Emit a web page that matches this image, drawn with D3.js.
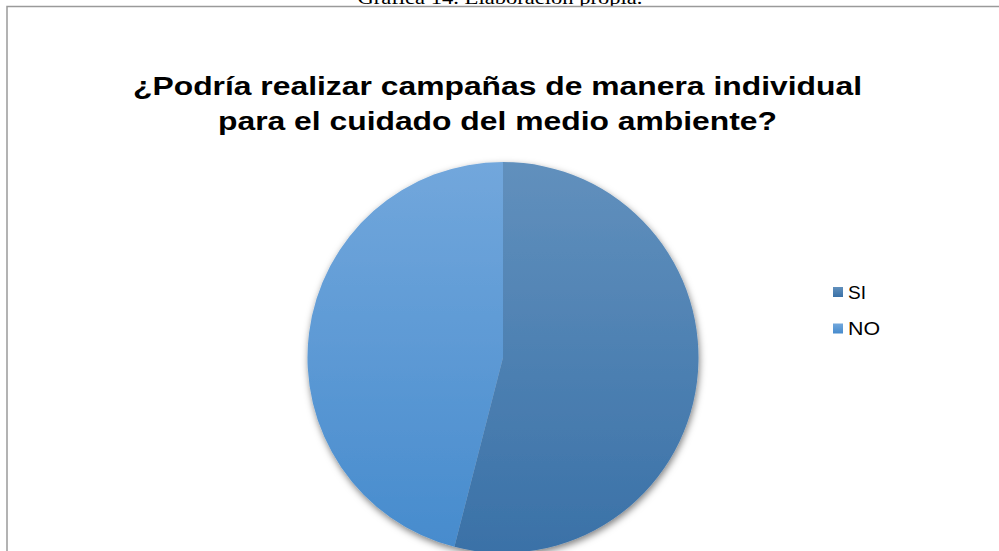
<!DOCTYPE html>
<html>
<head>
<meta charset="utf-8">
<script src="https://cdn.jsdelivr.net/npm/d3@7"></script>
<style>
  html, body { margin: 0; padding: 0; background: #fff; overflow: hidden; }
</style>
</head>
<body>
<script>
// DATA
const categories = ["SI", "NO"];
const values = [54, 46];
const titleLines = ["¿Podría realizar campañas de manera individual", "para el cuidado del medio ambiente?"];
const caption = "Gráfica 14. Elaboración propia.";

const pieData = categories.map((c, i) => ({category: c, value: values[i]}));

var svg = d3.select("body")
    .append("svg")
    .attr("width", 999)
    .attr("height", 551);

const defs = svg.append("defs");

// gradients for the slices
const grads = {
  SI: ["#6190bd", "#3a71a7"],
  NO: ["#72a7dc", "#468bcd"]
};
Object.keys(grads).forEach(k => {
  const g = defs.append("linearGradient")
      .attr("id", "grad" + k)
      .attr("gradientUnits", "userSpaceOnUse")
      .attr("x1", 0).attr("y1", -196)
      .attr("x2", 0).attr("y2", 196);
  g.append("stop").attr("offset", "0%").attr("stop-color", grads[k][0]);
  g.append("stop").attr("offset", "100%").attr("stop-color", grads[k][1]);

  const l = defs.append("linearGradient")
      .attr("id", "legend" + k)
      .attr("x1", 0).attr("y1", 0).attr("x2", 0).attr("y2", 1);
  l.append("stop").attr("offset", "0%").attr("stop-color", grads[k][0]);
  l.append("stop").attr("offset", "100%").attr("stop-color", grads[k][1]);
});

const shadow = defs.append("filter")
    .attr("id", "shadow")
    .attr("x", "-20%").attr("y", "-20%")
    .attr("width", "140%").attr("height", "140%");
shadow.append("feDropShadow")
    .attr("dx", 1).attr("dy", 3)
    .attr("stdDeviation", 3.5)
    .attr("flood-color", "#000")
    .attr("flood-opacity", 0.5);

// caption above the frame (cut off at top)
svg.append("text")
    .attr("x", 500)
    .attr("y", 4)
    .attr("text-anchor", "middle")
    .attr("textLength", 285)
    .attr("lengthAdjust", "spacingAndGlyphs")
    .style("font-family", "'Liberation Serif', 'Times New Roman', serif")
    .style("font-size", "18px")
    .attr("fill", "#000")
    .text(caption);

// chart frame
svg.append("rect")
    .attr("x", 7)
    .attr("y", 6.5)
    .attr("width", 1000)
    .attr("height", 600)
    .attr("fill", "#fff")
    .attr("stroke", "#9a9a9a")
    .attr("stroke-width", 1.5);

// title
const titleWidths = [729, 559];
titleLines.forEach((t, i) => {
  svg.append("text")
      .attr("x", 497.5)
      .attr("y", 95 + i * 34.5)
      .attr("text-anchor", "middle")
      .attr("textLength", titleWidths[i])
      .attr("lengthAdjust", "spacingAndGlyphs")
      .style("font-family", "'Liberation Sans', Arial, sans-serif")
      .style("font-weight", "bold")
      .style("font-size", "25.5px")
      .attr("fill", "#000")
      .text(t);
});

// pie
const radius = 195.5;
const pie = d3.pie().sort(null).value(d => d.value);
const arc = d3.arc().innerRadius(0).outerRadius(radius);

const pieGrp = svg.append("g")
    .attr("transform", "translate(503,357.5)");

pieGrp.append("g")
    .attr("filter", "url(#shadow)")
    .selectAll("path")
    .data(pie(pieData))
    .enter()
    .append("path")
    .attr("d", arc)
    .attr("fill", d => "url(#grad" + d.data.category + ")");

// legend
const legend = svg.append("g")
    .attr("transform", "translate(833,287)");
const items = legend.selectAll("g")
    .data(pieData)
    .enter()
    .append("g")
    .attr("transform", (d, i) => "translate(0," + i * 36.5 + ")");
items.append("rect")
    .attr("width", 10)
    .attr("height", 10)
    .attr("fill", d => "url(#legend" + d.category + ")");
items.append("text")
    .attr("x", 15)
    .attr("y", 11.5)
    .attr("textLength", d => d.category === "SI" ? 18 : 32)
    .attr("lengthAdjust", "spacingAndGlyphs")
    .style("font-family", "'Liberation Sans', Arial, sans-serif")
    .style("font-size", "17.5px")
    .attr("fill", "#000")
    .text(d => d.category);
</script>
</body>
</html>
